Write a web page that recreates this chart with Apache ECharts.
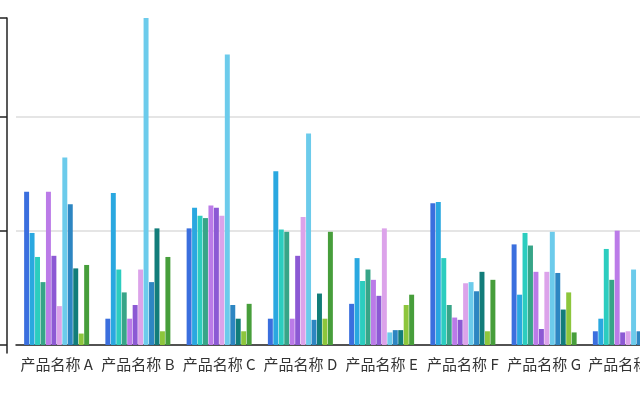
<!DOCTYPE html>
<html>
<head>
<meta charset="utf-8">
<script src="https://cdn.jsdelivr.net/npm/echarts@6/dist/echarts.min.js"></script>
<style>
html,body{margin:0;padding:0;width:640px;height:400px;overflow:hidden;background:#fff;}
#chart{position:absolute;left:0;top:0;width:700px;height:400px;}
</style>
</head>
<body>
<div id="chart"></div>
<script>
var categories = ['产品名称 A','产品名称 B','产品名称 C','产品名称 D','产品名称 E','产品名称 F','产品名称 G','产品名称 H'];
var s1  = [134, 23, 102, 23, 36, 124, 88, 12];
var s2  = [98, 133, 120, 152, 76, 125, 44, 23];
var s3  = [77, 66, 113, 101, 56, 76, 98, 84];
var s4  = [55, 46, 111, 99, 66, 35, 87, 57];
var s5  = [134, 23, 122, 23, 57, 24, 64, 100];
var s6  = [78, 35, 120, 78, 43, 22, 14, 11];
var s7  = [34, 66, 113, 112, 102, 54, 64, 12];
var s8  = [164, 286, 254, 185, 11, 55, 99, 66];
var s9  = [123, 55, 35, 22, 13, 47, 63, 12];
var s10 = [67, 102, 23, 45, 13, 64, 31, 40];
var s11 = [10, 12, 12, 23, 35, 12, 46, 30];
var s12 = [70, 77, 36, 99, 44, 57, 11, 50];
var yTicks = [0, 100, 200, 286];
var colors = ['#3b6fde','#2aa8e0','#2ccdbf','#37a588','#bb7be8','#8c59d4','#dca3ea','#6ccbeb','#2d86c2','#127d7a','#8dc63c','#479e3b'];
var seriesData = [s1,s2,s3,s4,s5,s6,s7,s8,s9,s10,s11,s12];

var chart = echarts.init(document.getElementById('chart'), null, {renderer:'canvas'});
chart.setOption({
  animation: false,
  color: colors,
  grid: {left: 16, right: 34, top: 18, bottom: 47, containLabel: false, outerBoundsMode: 'none'},
  xAxis: {
    type: 'category',
    data: categories,
    axisLine: {onZero: true, lineStyle: {color: '#222', width: 1.5}},
    axisTick: {alignWithLabel: true, length: 8, lineStyle: {color: '#222', width: 1.5}},
    axisLabel: {fontFamily: 'Noto Sans CJK SC', fontSize: 15, color: '#333', margin: 4, interval: 0}
  },
  yAxis: {
    type: 'value',
    min: -7,
    max: 286,
    offset: 9,
    axisLine: {show: true, lineStyle: {color: '#222', width: 1.5}},
    axisTick: {show: true, length: 8, customValues: yTicks, lineStyle: {color: '#222', width: 1.5}},
    axisLabel: {customValues: yTicks, color: '#333'},
    splitLine: {show: true, lineStyle: {color: ['#dcdcdc', '#dcdcdc', '#dcdcdc', 'rgba(0,0,0,0)'], width: 1.5}}
  },
  series: seriesData.map(function (d) {
    return {type: 'bar', data: d, barGap: '10%', barCategoryGap: '20%'};
  })
});
</script>
</body>
</html>
